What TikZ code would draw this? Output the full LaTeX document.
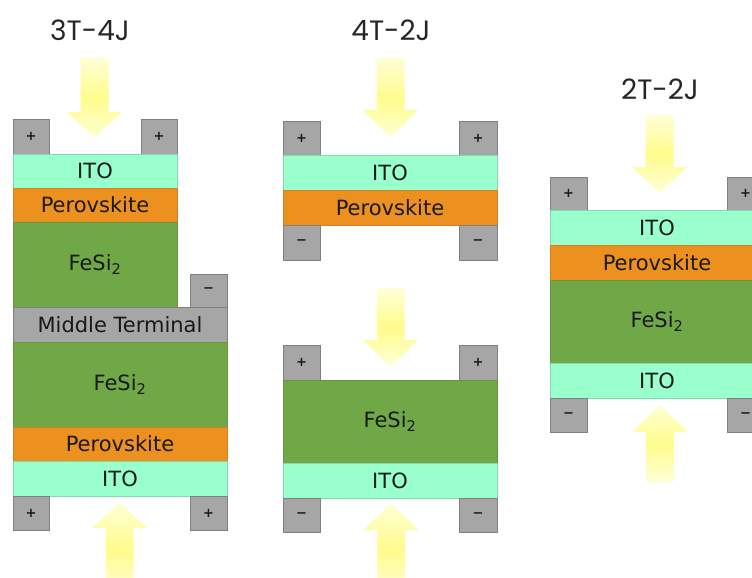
\documentclass[tikz,border=0pt]{standalone}
\usepackage{fontspec}
\setmainfont{DejaVu Sans}
\newfontfamily\titlefont{Poppins}
\definecolor{ito}{RGB}{153,255,204}
\definecolor{perov}{RGB}{236,144,32}
\definecolor{fesi}{RGB}{112,168,71}
\definecolor{termgray}{RGB}{166,166,166}
\definecolor{termedge}{RGB}{128,128,128}
\definecolor{arrowY}{RGB}{255,252,140}
\definecolor{arrowPale}{RGB}{255,255,215}
\tikzset{
 cell/.style={rectangle, inner sep=0pt, outer sep=0pt, font=\fontsize{21}{24}\selectfont, text=black!90},
 itol/.style={cell, fill=ito, draw=ito!85!black, line width=0.4pt},
 perl/.style={cell, fill=perov, draw=perov!90!black, line width=0.4pt},
 fesil/.style={cell, fill=fesi, draw=fesi!90!black, line width=0.4pt},
 midl/.style={cell, fill=termgray, draw=termedge, line width=0.4pt},
 contact/.style={cell, fill=termgray, draw=termedge, line width=0.6pt, font=\fontsize{13}{15}\selectfont\bfseries},
 title/.style={font=\titlefont\fontsize{28}{32}\selectfont, text=black!85},
 lightray/.style={top color=arrowPale, bottom color=arrowPale, middle color=arrowY},
}
\newcommand\blk[7]{\node[#6, minimum width={(#4-#2)*1pt}, minimum height={(#5-#3)*1pt}] (#1) at ({(#2+#4)/2},{(#3+#5)/2}) {#7};}
\newcommand\ray[4]{\shade[lightray] ({#1-14},#2) -- ({#1+14},#2) -- ({#1+14},#3) -- ({#1+27.5},#3) -- (#1,#4) -- ({#1-27.5},#3) -- ({#1-14},#3) -- cycle;}
\begin{document}
\begin{tikzpicture}[x=1pt,y=-1pt]
\useasboundingbox (0,0) rectangle (752,578);
\clip (0,0) rectangle (752,578);
% light arrows
\ray{94.5}{58}{112}{138}
\ray{119.5}{595}{528}{502}
\ray{390.5}{58}{110}{138}
\ray{390.5}{288}{340}{367}
\ray{391}{595}{530}{503}
\ray{659.5}{115}{167}{193}
\ray{660}{482}{432}{405}
% titles
\node[title] (t1) at (90,30) {3T-4J};
\node[title] (t2) at (391,30) {4T-2J};
\node[title] (t3) at (660,89) {2T-2J};
% 3T-4J
\blk{a1p}{13}{119}{49}{154}{contact}{+}
\blk{a2p}{141}{119}{177}{154}{contact}{+}
\blk{aito}{13}{154}{177}{188}{itol}{ITO}
\blk{aper}{13}{188}{177}{222}{perl}{Perovskite}
\blk{afe}{13}{222}{177}{307}{fesil}{FeSi\textsubscript{2}}
\blk{amn}{190}{274}{227}{307}{contact}{−}
\blk{amid}{13}{307}{227}{342}{midl}{Middle Terminal}
\blk{afe2}{13}{342}{227}{427}{fesil}{FeSi\textsubscript{2}}
\blk{aper2}{13}{427}{227}{461}{perl}{Perovskite}
\blk{aito2}{13}{461}{227}{496}{itol}{ITO}
\blk{a3p}{13}{496}{49}{530}{contact}{+}
\blk{a4p}{190}{496}{227}{530}{contact}{+}
% 4T-2J upper
\blk{b1p}{283}{121}{320}{155}{contact}{+}
\blk{b2p}{459}{121}{497}{155}{contact}{+}
\blk{bito}{283}{155}{497}{190}{itol}{ITO}
\blk{bper}{283}{190}{497}{225}{perl}{Perovskite}
\blk{b1m}{283}{225}{320}{260}{contact}{−}
\blk{b2m}{459}{225}{497}{260}{contact}{−}
% 4T-2J lower
\blk{c1p}{283}{345}{320}{380}{contact}{+}
\blk{c2p}{459}{345}{497}{380}{contact}{+}
\blk{cfe}{283}{380}{497}{463}{fesil}{FeSi\textsubscript{2}}
\blk{cito}{283}{463}{497}{498}{itol}{ITO}
\blk{c1m}{283}{498}{320}{532}{contact}{−}
\blk{c2m}{459}{498}{497}{532}{contact}{−}
% 2T-2J
\blk{d1p}{550}{177}{587}{210}{contact}{+}
\blk{d2p}{727}{177}{764}{210}{contact}{+}
\blk{dito}{550}{210}{764}{245}{itol}{ITO}
\blk{dper}{550}{245}{764}{280}{perl}{Perovskite}
\blk{dfe}{550}{280}{764}{363}{fesil}{FeSi\textsubscript{2}}
\blk{dito2}{550}{363}{764}{398}{itol}{ITO}
\blk{d1m}{550}{398}{587}{432}{contact}{−}
\blk{d2m}{727}{398}{764}{432}{contact}{−}
\end{tikzpicture}
\end{document}
